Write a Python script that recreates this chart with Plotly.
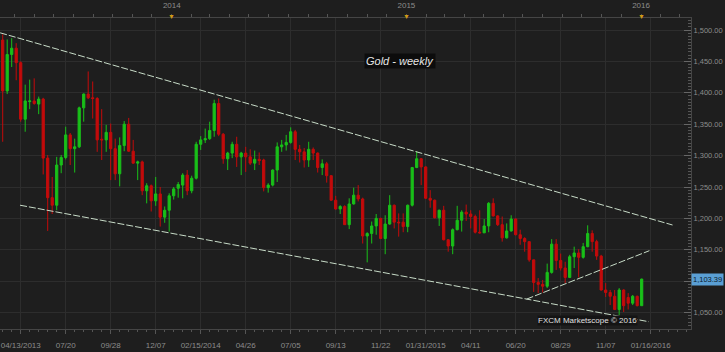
import plotly.graph_objects as go
import pandas as pd

# ---------------- data ----------------
start_date = "2013-04-13"
opens = [1484, 1403, 1461, 1471, 1448, 1358, 1386, 1387, 1382, 1390,
         1296, 1233, 1221, 1285, 1297, 1333, 1311, 1314, 1376, 1398,
         1392, 1391, 1326, 1325, 1337, 1311, 1271, 1316, 1350, 1307,
         1288, 1290, 1244, 1252, 1228, 1239, 1202, 1213, 1236, 1248,
         1253, 1269, 1244, 1264, 1318, 1325, 1327, 1340, 1383, 1334,
         1295, 1304, 1318, 1298, 1304, 1298, 1288, 1294, 1293, 1249,
         1253, 1277, 1314, 1317, 1321, 1338, 1310, 1306, 1293, 1310,
         1304, 1281, 1287, 1268, 1229, 1215, 1219, 1190, 1223, 1237,
         1231, 1172, 1176, 1188, 1200, 1168, 1191, 1221, 1194, 1194,
         1187, 1221, 1281, 1295, 1282, 1232, 1229, 1201, 1213, 1166,
         1156, 1182, 1197, 1210, 1207, 1203, 1178, 1177, 1188, 1224,
         1204, 1190, 1169, 1180, 1199, 1174, 1168, 1163, 1134, 1098,
         1095, 1092, 1114, 1159, 1133, 1121, 1106, 1139, 1145, 1138,
         1155, 1176, 1163, 1140, 1086, 1082, 1076, 1055, 1086, 1074,
         1065, 1076, 1061]
highs = [1493, 1485, 1487, 1479, 1450, 1413, 1421, 1423, 1394, 1392,
         1301, 1266, 1298, 1301, 1346, 1336, 1327, 1378, 1399, 1434,
         1418, 1393, 1374, 1349, 1351, 1327, 1329, 1355, 1360, 1325,
         1292, 1292, 1256, 1254, 1266, 1250, 1219, 1240, 1250, 1258,
         1272, 1277, 1268, 1322, 1331, 1343, 1354, 1389, 1391, 1336,
         1306, 1322, 1330, 1306, 1314, 1310, 1308, 1305, 1295, 1256,
         1278, 1321, 1325, 1333, 1345, 1341, 1317, 1312, 1322, 1313,
         1305, 1294, 1290, 1269, 1236, 1221, 1221, 1232, 1249, 1253,
         1233, 1178, 1195, 1207, 1201, 1205, 1237, 1222, 1208, 1208,
         1222, 1282, 1307, 1296, 1283, 1245, 1230, 1214, 1220, 1167,
         1184, 1220, 1213, 1222, 1213, 1206, 1213, 1199, 1226, 1232,
         1205, 1203, 1192, 1205, 1200, 1182, 1170, 1163, 1134, 1105,
         1102, 1128, 1167, 1167, 1144, 1131, 1142, 1155, 1151, 1161,
         1189, 1181, 1166, 1142, 1097, 1086, 1086, 1089, 1087, 1081,
         1078, 1077, 1104]
lows = [1322, 1398, 1441, 1420, 1354, 1338, 1374, 1381, 1366, 1270,
        1180, 1207, 1213, 1272, 1294, 1285, 1273, 1312, 1354, 1390,
        1359, 1306, 1293, 1306, 1261, 1261, 1251, 1307, 1306, 1287,
        1261, 1237, 1224, 1211, 1220, 1187, 1193, 1179, 1230, 1233,
        1232, 1237, 1240, 1262, 1309, 1320, 1325, 1330, 1331, 1287,
        1277, 1296, 1282, 1269, 1274, 1285, 1277, 1285, 1243, 1241,
        1251, 1258, 1306, 1308, 1319, 1293, 1289, 1281, 1282, 1293,
        1273, 1269, 1257, 1228, 1214, 1207, 1190, 1183, 1222, 1227,
        1160, 1130, 1160, 1174, 1167, 1143, 1190, 1184, 1171, 1178,
        1178, 1219, 1280, 1253, 1231, 1217, 1200, 1188, 1165, 1147,
        1143, 1181, 1179, 1196, 1184, 1176, 1176, 1177, 1178, 1203,
        1188, 1163, 1168, 1179, 1173, 1158, 1147, 1131, 1083, 1081,
        1082, 1089, 1112, 1118, 1117, 1097, 1105, 1121, 1106, 1136,
        1154, 1147, 1134, 1085, 1075, 1062, 1054, 1046, 1051, 1055,
        1062, 1060, 1061]
closes = [1403, 1461, 1471, 1448, 1358, 1387, 1387, 1383, 1390, 1296,
          1233, 1221, 1285, 1297, 1333, 1311, 1314, 1376, 1398, 1392,
          1391, 1325, 1325, 1337, 1311, 1271, 1316, 1350, 1307, 1288,
          1290, 1244, 1252, 1228, 1239, 1202, 1213, 1236, 1247, 1254,
          1269, 1244, 1264, 1318, 1325, 1327, 1340, 1383, 1334, 1295,
          1304, 1318, 1298, 1304, 1298, 1288, 1294, 1292, 1249, 1253,
          1277, 1314, 1317, 1321, 1338, 1310, 1306, 1293, 1310, 1304,
          1281, 1287, 1268, 1229, 1215, 1219, 1190, 1223, 1237, 1231,
          1172, 1176, 1188, 1200, 1168, 1191, 1221, 1194, 1193, 1187,
          1221, 1281, 1295, 1282, 1232, 1229, 1201, 1213, 1166, 1156,
          1182, 1197, 1210, 1207, 1203, 1178, 1177, 1188, 1224, 1204,
          1190, 1169, 1180, 1199, 1174, 1168, 1163, 1134, 1098, 1095,
          1092, 1114, 1159, 1133, 1121, 1106, 1139, 1145, 1138, 1155,
          1176, 1163, 1140, 1086, 1082, 1076, 1055, 1086, 1061, 1065,
          1076, 1061, 1103.39]

tick_text = ["04/13/2013", "07/20", "09/28", "12/07", "02/15/2014", "04/26",
             "07/05", "09/13", "11/22", "01/31/2015", "04/11", "06/20",
             "08/29", "11/07", "01/16/2016"]
tick_first = "2013-05-11"

price_ticks = [1050, 1100, 1150, 1200, 1250, 1300, 1350, 1400, 1450, 1500]
hidden_price_label = 1100  # covered by the last-price box in the reference

year_dates = ["2014-01-01", "2015-01-01", "2016-01-01"]
year_text = ["2014", "2015", "2016"]

# trend lines
upper_x = ["2013-04-09", "2016-02-19"]
upper_y = [1495.5, 1189.5]
lower_x = ["2013-05-10", "2016-01-13"]
lower_y = [1221.0, 1035.5]
rise_x = ["2015-07-07", "2016-01-14"]
rise_y = [1071.5, 1148.6]

last_price = closes[-1]

# ---------------- figure ----------------
dates = pd.date_range(start_date, periods=len(opens), freq="7D")
tick_dates = pd.date_range(tick_first, periods=len(tick_text), freq="70D")
price_text = ["" if v == hidden_price_label else f"{v:,.2f}" for v in price_ticks]

BG = "#1e1e1e"
GRID = "#2d2d2d"
TXT = "#8c8c8c"
GREEN = "#19c019"
RED = "#c40b0b"
TREND = "#c8dcc8"
FONT = "Liberation Sans"

fig = go.Figure()
fig.add_trace(go.Candlestick(
    x=dates, open=opens, high=highs, low=lows, close=closes,
    increasing=dict(line=dict(color=GREEN, width=1), fillcolor=GREEN),
    decreasing=dict(line=dict(color=RED, width=1), fillcolor=RED),
    whiskerwidth=0, showlegend=False, hoverinfo="skip"))

for xs, ys in [(upper_x, upper_y), (lower_x, lower_y), (rise_x, rise_y)]:
    fig.add_trace(go.Scatter(x=xs, y=ys, mode="lines",
                             line=dict(color=TREND, width=1, dash="7px,2px"),
                             showlegend=False, hoverinfo="skip"))

# invisible trace to bind the top axis
fig.add_trace(go.Scatter(x=year_dates, y=[None] * len(year_dates), xaxis="x2",
                         mode="markers", showlegend=False, hoverinfo="skip"))

x0 = pd.Timestamp(start_date) - pd.Timedelta(days=4.2)
x1 = pd.Timestamp(start_date) + pd.Timedelta(days=152.96 * 7)

fig.update_layout(
    width=725, height=352,
    margin=dict(l=0, r=34, t=18, b=23, pad=0),
    paper_bgcolor=BG, plot_bgcolor=BG,
    font=dict(family=FONT, color=TXT, size=8),
    xaxis=dict(
        type="date", range=[x0, x1], rangeslider=dict(visible=False),
        tickvals=tick_dates, ticktext=tick_text,
        showgrid=True, gridcolor=GRID, gridwidth=1,
        ticks="outside", ticklen=4, tickcolor="#555555",
        showline=True, linecolor="#454545", linewidth=1,
        tickfont=dict(size=8, color=TXT, family=FONT),
        ticklabelstandoff=4,
        minor=dict(ticks="outside", ticklen=2, tickcolor="#555555",
                   dtick=14 * 86400000, tick0=start_date, showgrid=False),
        zeroline=False, fixedrange=True,
    ),
    xaxis2=dict(
        type="date", overlaying="x", side="top", matches="x",
        tickvals=year_dates, ticktext=year_text,
        ticks="outside", ticklen=3, tickcolor="#555555",
        showline=True, linecolor="#454545", linewidth=1,
        showgrid=False, tickfont=dict(size=8, color=TXT, family=FONT),
        ticklabelstandoff=3,
        minor=dict(ticks="outside", ticklen=3, tickcolor="#555555",
                   dtick="M1", showgrid=False),
    ),
    yaxis=dict(
        side="right", range=[1023.9, 1519.1],
        tickvals=price_ticks, ticktext=price_text,
        showgrid=True, gridcolor=GRID, gridwidth=1,
        ticks="inside", ticklen=7, tickcolor="#666666",
        showline=True, linecolor="#454545", linewidth=1,
        tickfont=dict(size=7.5, color=TXT, family=FONT),
        minor=dict(ticks="inside", ticklen=3, tickcolor="#555555",
                   dtick=5, tick0=1000, showgrid=False),
        zeroline=False, fixedrange=True,
    ),
)

annotations = [
    dict(text="<i>Gold - weekly</i>", xref="paper", yref="paper",
         x=0.579, y=0.889, showarrow=False, bgcolor="#0c0c0c",
         font=dict(size=11, color="#e6e6e6", family=FONT), borderpad=1),
    dict(text="FXCM Marketscope © 2016", xref="paper", yref="paper",
         x=0.923, y=0.011, showarrow=False, bgcolor="#141414",
         font=dict(size=8, color="#e0e0e0", family=FONT), borderpad=0),
    dict(text=f"{last_price:,.2f}", xref="paper", yref="y",
         x=1.0, y=last_price, xanchor="left", showarrow=False,
         bgcolor="#5a9fd4", font=dict(size=7.5, color="#0b1b2b", family=FONT),
         borderpad=1, xshift=0),
]
for d in year_dates:
    annotations.append(dict(text="▼", xref="x", yref="paper", x=d, y=1.0,
                            yanchor="bottom", showarrow=False, yshift=-4,
                            font=dict(size=7, color="#d19a16")))
fig.update_layout(annotations=annotations)

fig.write_html("out.html")
